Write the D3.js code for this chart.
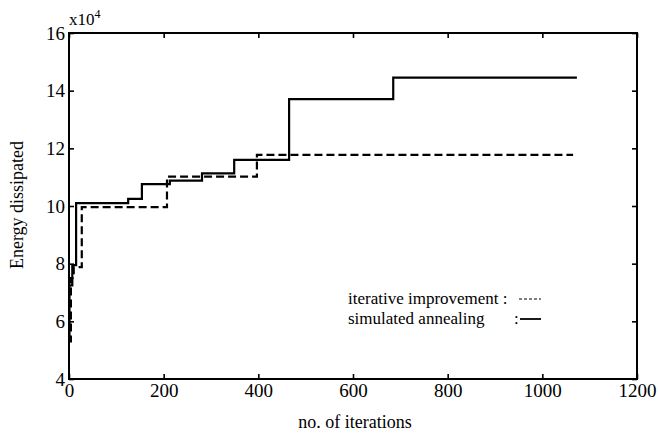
<!doctype html>
<html>
<head>
<meta charset="utf-8">
<script src="https://cdn.jsdelivr.net/npm/d3@7"></script>
<style>
  body { margin: 0; background: #fff; }
  svg text { font-family: "Liberation Serif", "DejaVu Serif", serif; fill: #000; }
</style>
</head>
<body>
<svg id="chart" width="658" height="436"></svg>
<script>
// values (energy in units of 1e4)
var xTicks = [0, 200, 400, 600, 800, 1000, 1200];
var yTicks = [4, 6, 8, 10, 12, 14, 16];

var annealIter   = [0, 1, 7, 15, 125, 154, 213, 281, 349, 465, 685, 1073];
var annealEnergy = [5.5, 7.25, 7.95, 10.1, 10.25, 10.76, 10.88, 11.13, 11.6, 13.71, 14.45, 14.45];

var iterIter   = [0, 4, 10, 27, 207, 397, 1065];
var iterEnergy = [5.3, 7.5, 7.88, 9.96, 11.02, 11.77, 11.77];

var serif = "Liberation Serif";
var margin = {top: 33, right: 21, bottom: 57, left: 69};
var W = 658, H = 436;
var w = W - margin.left - margin.right, h = H - margin.top - margin.bottom;

var svg = d3.select("#chart");
var g = svg.append("g").attr("transform", "translate(" + margin.left + "," + margin.top + ")");

var x = d3.scaleLinear().domain([0, 1200]).range([0, w]);
var y = d3.scaleLinear().domain([4, 16]).range([h, 0]);

// frame
g.append("rect").attr("width", w).attr("height", h)
  .attr("fill", "none").attr("stroke", "#000").attr("stroke-width", 2);

// inward ticks on all four sides
var tl = 5;
g.append("g").attr("transform", "translate(0," + h + ")")
  .call(d3.axisBottom(x).tickValues(xTicks).tickSizeInner(-tl).tickSizeOuter(0).tickPadding(5).tickFormat(d3.format("d")));
g.append("g")
  .call(d3.axisTop(x).tickValues(xTicks).tickSizeInner(-tl).tickSizeOuter(0).tickFormat(""));
g.append("g")
  .call(d3.axisLeft(y).tickValues(yTicks).tickSizeInner(-tl).tickSizeOuter(0).tickPadding(4).tickFormat(d3.format("d")));
g.append("g").attr("transform", "translate(" + w + ",0)")
  .call(d3.axisRight(y).tickValues(yTicks).tickSizeInner(-tl).tickSizeOuter(0).tickFormat(""));

g.selectAll(".domain").remove();
g.selectAll("g").attr("font-family", serif).attr("font-size", 19);
g.selectAll(".tick line").attr("stroke", "#000").attr("stroke-width", 1.6);
g.selectAll(".tick text").attr("font-family", serif).attr("font-size", 19);

// exponent label
var ex = svg.append("text").attr("x", margin.left).attr("y", 25)
  .attr("font-family", serif).attr("font-size", 17);
ex.append("tspan").text("x10");
ex.append("tspan").attr("dy", -7).attr("font-size", 12).text("4");

// step lines
var line = d3.line().curve(d3.curveStepAfter).x(function(d) { return x(d[0]); }).y(function(d) { return y(d[1]); });

g.append("path").datum(d3.zip(iterIter, iterEnergy))
  .attr("d", line).attr("fill", "none").attr("stroke", "#000")
  .attr("stroke-width", 2.2).attr("stroke-dasharray", "8,4");

g.append("path").datum(d3.zip(annealIter, annealEnergy))
  .attr("d", line).attr("fill", "none").attr("stroke", "#000")
  .attr("stroke-width", 2.2);

// legend
var lg = svg.append("g").attr("font-family", serif).attr("font-size", 17);
lg.append("text").attr("x", 348).attr("y", 304).text("iterative improvement :");
lg.append("text").attr("x", 348).attr("y", 324).text("simulated annealing");
lg.append("text").attr("x", 514).attr("y", 324).text(":");
lg.append("line").attr("x1", 519).attr("x2", 541).attr("y1", 299).attr("y2", 299)
  .attr("stroke", "#000").attr("stroke-width", 1.2).attr("stroke-dasharray", "3,2");
lg.append("line").attr("x1", 520).attr("x2", 541).attr("y1", 319).attr("y2", 319)
  .attr("stroke", "#000").attr("stroke-width", 1.8);

// axis titles
svg.append("text").attr("x", 355).attr("y", 428).attr("text-anchor", "middle")
  .attr("font-family", serif).attr("font-size", 18).text("no. of iterations");
svg.append("text").attr("transform", "translate(23," + 205 + ") rotate(-90)")
  .attr("text-anchor", "middle").attr("font-family", serif).attr("font-size", 18).text("Energy dissipated");
</script>
</body>
</html>
